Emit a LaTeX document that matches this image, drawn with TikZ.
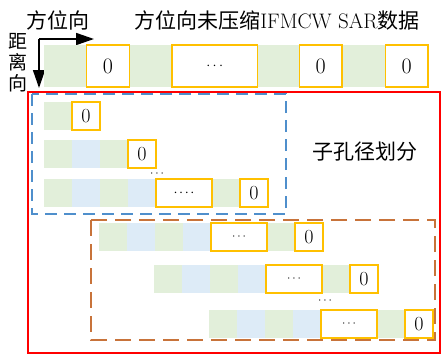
\documentclass[tikz,border=0pt]{standalone}
\usepackage{fontspec}
\newfontfamily\cjk{Noto Sans CJK SC}
\usetikzlibrary{arrows.meta}
\definecolor{cgreen}{HTML}{E2EFDA}
\definecolor{cblue}{HTML}{DDEBF7}
\definecolor{cyel}{HTML}{FFC000}
\definecolor{cbline}{HTML}{4F8FCC}
\definecolor{corg}{HTML}{C8733A}
\newcommand\fourdots{$\mathord{\cdot}\mkern2mu\mathord{\cdot}\mkern2mu\mathord{\cdot}\mkern2mu\mathord{\cdot}$}
% full sub-aperture row: name prefix, x, y, dots text
\newcommand\fullrow[4]{%
  \node[gc, minimum width=224pt] (#1a) at (#2,#3) {};
  \node[bc] (#1b) at (#2+28,#3) {};
  \node[bc] (#1d) at (#2+84,#3) {};
  \node[zc,wide] (#1e) at (#2+112,#3) {#4};
  \node[zc] (#1g) at (#2+196,#3) {0};
}
\begin{document}
\begin{tikzpicture}[x=1pt,y=-1pt,
  cell/.style={anchor=north west, minimum width=28pt, minimum height=28pt, inner sep=0pt, outer sep=0pt},
  gc/.style={cell, fill=cgreen},
  bc/.style={cell, fill=cblue},
  zc/.style={cell, fill=white, draw=cyel, line width=1.6pt, font=\fontsize{20}{20}\selectfont},
  wide/.style={minimum width=56pt},
  tcell/.style={anchor=north west, minimum width=42.67pt, minimum height=42pt, inner sep=0pt, outer sep=0pt},
  tg/.style={tcell, fill=cgreen},
  tz/.style={tcell, fill=white, draw=cyel, line width=1.6pt, font=\fontsize{22}{22}\selectfont},
  lbl/.style={font=\cjk\fontsize{21}{21}\selectfont, inner sep=0pt},
  axis/.style={line width=1.6pt, -{Triangle[length=18pt,width=12pt]}},
  smalldots/.style={font=\fontsize{13}{13}\selectfont, inner sep=0pt},
]
\useasboundingbox (0,0) rectangle (441,354);
% titles
\node[lbl] (tA) at (58,20) {方位向};
\node[lbl] (tB) at (277,20) {方位向未压缩{\rmfamily IFMCW SAR}数据};
\node[lbl, align=center, font=\cjk\fontsize{19}{21}\selectfont] (tR) at (18,63) {距\\离\\向};
% axes
\coordinate (o) at (39,39);
\coordinate (ax) at (94,39);
\coordinate (ay) at (39,88);
\draw[axis] (o) -- (ax);
\draw[axis] (o) -- (ay);
% top row
\node[tg, minimum width=384pt] (tbar) at (44,45) {};
\node[tz] (t2) at (86.67,45) {0};
\node[tz, minimum width=85.33pt, font=\fontsize{15}{15}\selectfont] (t4) at (172,45) {$\cdots$};
\node[tz] (t7) at (299.33,45) {0};
\node[tz] (t9) at (385.33,45) {0};
% frames
\draw[red, line width=1.2pt] (28,92) rectangle (440,353);
\draw[cbline, line width=1.4pt, dash pattern=on 12pt off 7pt] (32,94) rectangle (286,214);
\draw[corg, line width=1.4pt, dash pattern=on 16pt off 8pt] (91,220) rectangle (435,340);
% blue group
\node[gc] (b1a) at (44,102) {};
\node[zc] (b1b) at (72,102) {0};
\node[gc, minimum width=84pt] (b2a) at (44,140) {};
\node[bc] (b2b) at (72,140) {};
\node[zc] (b2d) at (128,140) {0};
\node[smalldots] (bd) at (157,174) {$\cdots$};
\fullrow{b3}{44}{179}{\fontsize{15}{15}\selectfont\fourdots}
% orange group
\fullrow{o1}{99}{223}{\fontsize{12}{12}\selectfont$\cdots$}
\fullrow{o2}{154}{265}{\fontsize{12}{12}\selectfont$\cdots$}
\fullrow{o3}{209}{310}{\fontsize{12}{12}\selectfont$\cdots$}
\node[smalldots] (od) at (325,301) {$\cdots$};
% label
\node[lbl] (sub) at (365,152) {子孔径划分};
\end{tikzpicture}
\end{document}
